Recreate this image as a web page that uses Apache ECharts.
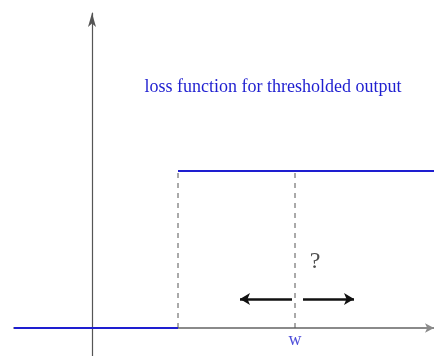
<!DOCTYPE html>
<head>
    <meta charset="utf-8">
    <title>loss function for thresholded output</title>
    <style>
        html, body {
            width: 100%;
            height: 100%;
            margin: 0;
            background: #fff;
        }
        #main {
            width: 434px;
            height: 356px;
        }
    </style>
</head>
<body>
<div id="main"></div>
<script src="https://cdn.jsdelivr.net/npm/echarts@6/dist/echarts.min.js"></script>
<script type="text/javascript">
  // plot range (abstract units, y axis sits at x = 0, x axis at y = 0)
  var xRange = [-0.78, 3.42];
  var yRange = [-0.28, 3.15];

  // thresholded loss: low before the step, high after it
  var stepX = 0.86;
  var lowLoss = 0;
  var highLoss = 1.57;

  // current weight w and the "which way?" arrows
  var wX = 2.03;
  var arrowY = 0.29;
  var leftArrow = [2.0, 1.48];
  var rightArrow = [2.11, 2.62];

  var titleText = 'loss function for thresholded output';
  var wLabel = 'w';
  var questionLabel = '?';
  var questionPos = [2.23, 0.66];

  var serif = '"Liberation Serif", "DejaVu Serif", serif';

  var myChart = echarts.init(document.getElementById('main'));

  var option = {
    animation: false,
    title: {
      text: titleText,
      left: 268,
      top: 73,
      textAlign: 'center',
      textStyle: {
        fontFamily: serif,
        fontWeight: 'normal',
        fontSize: 18,
        color: '#1e1ed0'
      }
    },
    grid: {
      left: 14,
      right: 0,
      top: 13,
      bottom: 0
    },
    xAxis: {
      type: 'value',
      min: xRange[0],
      max: xRange[1],
      splitLine: {show: false},
      axisTick: {show: false},
      axisLabel: {show: false},
      axisLine: {
        onZero: true,
        symbol: ['none', 'arrow'],
        symbolSize: [7, 9],
        lineStyle: {color: '#8a8a8a', width: 2}
      }
    },
    yAxis: {
      type: 'value',
      min: yRange[0],
      max: yRange[1],
      splitLine: {show: false},
      axisTick: {show: false},
      axisLabel: {show: false},
      axisLine: {
        onZero: true,
        symbol: ['none', 'arrow'],
        symbolSize: [6, 14],
        lineStyle: {color: '#555', width: 1.2}
      }
    },
    series: [
      {
        // dashed guides
        type: 'line',
        symbol: 'none',
        silent: true,
        z: 1,
        lineStyle: {color: '#555', width: 1, type: [5, 5]},
        data: [[stepX, lowLoss], [stepX, highLoss], '-', [wX, lowLoss], [wX, highLoss]]
      },
      {
        // step loss
        type: 'line',
        symbol: 'none',
        silent: true,
        z: 3,
        lineStyle: {color: '#1e1ed0', width: 2},
        data: [[xRange[0], lowLoss], [stepX, lowLoss], '-', [stepX, highLoss], [xRange[1], highLoss]],
        markLine: {
          silent: true,
          symbol: ['none', 'arrow'],
          symbolSize: [9, 10],
          label: {show: false},
          lineStyle: {color: '#111', width: 2.6, type: 'solid'},
          data: [
            [{coord: [leftArrow[0], arrowY]}, {coord: [leftArrow[1], arrowY]}],
            [{coord: [rightArrow[0], arrowY]}, {coord: [rightArrow[1], arrowY]}]
          ]
        }
      },
      {
        // text labels
        type: 'scatter',
        symbolSize: 0,
        silent: true,
        z: 4,
        data: [
          {
            value: [wX, lowLoss],
            label: {
              show: true, position: 'bottom', distance: 3, formatter: wLabel,
              fontFamily: serif, fontSize: 18, color: '#1e1ed0'
            }
          },
          {
            value: questionPos,
            label: {
              show: true, position: 'inside', formatter: questionLabel,
              fontFamily: serif, fontSize: 24, color: '#222'
            }
          }
        ]
      }
    ]
  };

  myChart.setOption(option);
</script>
</body>
